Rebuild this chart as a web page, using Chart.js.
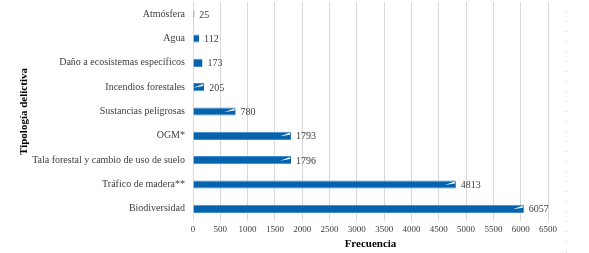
<!DOCTYPE html>
<html>
<head>
<meta charset="utf-8">
<script src="https://cdn.jsdelivr.net/npm/chart.js@4"></script>
<style>
  html, body { margin: 0; padding: 0; background: #fff; }
  canvas { display: block; }
</style>
</head>
<body>
<canvas id="chart" width="589" height="253"></canvas>
<script>
// Data
const categories = [
    'Atmósfera',
    'Agua',
    'Daño a ecosistemas específicos',
    'Incendios forestales',
    'Sustancias peligrosas',
    'OGM*',
    'Tala forestal y cambio de uso de suelo',
    'Tráfico de madera**',
    'Biodiversidad'
];
const frecuencia = [25, 112, 173, 205, 780, 1793, 1796, 4813, 6057];
const xTicks = [0, 500, 1000, 1500, 2000, 2500, 3000, 3500, 4000, 4500, 5000, 5500, 6000, 6500];

const serif = 'Liberation Serif';

// value labels at the end of each bar, plus the small white break mark
const valueLabels = {
    id: 'valueLabels',
    afterDatasetsDraw(chart) {
        const ctx = chart.ctx;
        const meta = chart.getDatasetMeta(0);
        ctx.save();
        meta.data.forEach(function(bar, i) {
            if (frecuencia[i] >= 200) {
                const h = bar.height / 2;
                ctx.fillStyle = '#ffffff';
                ctx.beginPath();
                ctx.moveTo(bar.x - 1, bar.y - h + 1);
                ctx.lineTo(bar.x - 11, bar.y + 0.5);
                ctx.lineTo(bar.x - 1, bar.y - h + 3);
                ctx.closePath();
                ctx.fill();
            }
        });
        ctx.font = '10px "' + serif + '"';
        ctx.fillStyle = '#404040';
        ctx.textBaseline = 'middle';
        meta.data.forEach(function(bar, i) {
            ctx.fillText(String(frecuencia[i]), bar.x + 5, bar.y + 1);
        });
        ctx.restore();
    }
};

// faint dotted frame edge on the right side
const frameEdge = {
    id: 'frameEdge',
    afterDraw(chart) {
        const ctx = chart.ctx;
        ctx.save();
        ctx.strokeStyle = '#c8c8c8';
        ctx.lineWidth = 1;
        ctx.setLineDash([1, 9]);
        ctx.beginPath();
        ctx.moveTo(566.5, 11);
        ctx.lineTo(566.5, 253);
        ctx.stroke();
        ctx.restore();
    }
};

new Chart(document.getElementById('chart').getContext('2d'), {
    type: 'bar',
    data: {
        labels: categories,
        datasets: [{
            label: 'Frecuencia',
            data: frecuencia,
            backgroundColor: '#0563ad',
            borderColor: '#3f8ad0',
            borderWidth: { top: 1, bottom: 1, left: 0, right: 0 },
            barPercentage: 0.7,
            categoryPercentage: 0.48
        }]
    },
    options: {
        indexAxis: 'y',
        responsive: false,
        animation: false,
        devicePixelRatio: 1,
        layout: {
            padding: { top: 2, right: 41, bottom: 2, left: 18 }
        },
        plugins: {
            legend: { display: false },
            tooltip: { enabled: false }
        },
        scales: {
            x: {
                min: 0,
                max: 6500,
                afterBuildTicks: function(axis) {
                    axis.ticks = xTicks.map(function(v) { return { value: v }; });
                },
                grid: { color: '#d9d9d9', drawTicks: false },
                border: { display: false },
                ticks: {
                    padding: 3,
                    color: '#404040',
                    font: { family: serif, size: 9 },
                    maxRotation: 0,
                    autoSkip: false,
                    callback: function(v) { return String(v); }
                },
                title: {
                    display: true,
                    text: 'Frecuencia',
                    color: '#000',
                    font: { family: serif, size: 11, weight: 'bold' },
                    padding: { top: 0, bottom: 0 }
                }
            },
            y: {
                grid: { display: false, drawTicks: false },
                border: { display: false },
                afterFit: function(axis) {
                    axis.width = 175;
                    axis.paddingTop = 0;
                    axis.paddingBottom = 0;
                },
                ticks: {
                    padding: 8,
                    color: '#404040',
                    font: { family: serif, size: 10 }
                },
                title: {
                    display: true,
                    text: 'Tipología delictiva',
                    color: '#000',
                    font: { family: serif, size: 11, weight: 'bold' },
                    padding: { top: 0, bottom: 1 }
                }
            }
        }
    },
    plugins: [valueLabels, frameEdge]
});
</script>
</body>
</html>
